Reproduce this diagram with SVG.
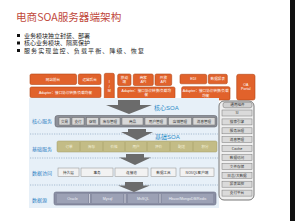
<svg xmlns="http://www.w3.org/2000/svg" width="295" height="221" viewBox="0 0 295 221">
<style>
.cjk{font-family:"Noto Sans CJK SC","Liberation Sans",sans-serif}
.or{fill:#e1622b;stroke:#b44716;stroke-width:0.6}
.ot{fill:#fff;font-size:3.6px;text-anchor:middle;font-family:"Liberation Sans","Noto Sans CJK SC",sans-serif}
.lbl{fill:#2f82c4;font-size:5px;font-family:"Noto Sans CJK SC",sans-serif}
.soa{fill:#2c8cc8;font-size:6px;font-family:"Liberation Sans","Noto Sans CJK SC",sans-serif}
.ci{fill:#d8d8d8;stroke:#6f6f6f;stroke-width:0.5}
.ct{fill:#333;font-size:3.6px;text-anchor:middle;font-family:"Noto Sans CJK SC",sans-serif}
.bt{fill:#f4f1dc;font-size:3.6px;text-anchor:middle;font-family:"Noto Sans CJK SC",sans-serif}
.di{fill:#f2f2f2;stroke:#8c8c8c;stroke-width:0.5}
.st{fill:#eef0f6;font-size:3.6px;text-anchor:middle;font-family:"Liberation Sans","Noto Sans CJK SC",sans-serif}
.gi{fill:#dadada;stroke:#7a7a7a;stroke-width:0.5}
.sep{stroke:#8ea6c2;stroke-width:0.7;stroke-dasharray:1.2 1.2;fill:none}
.arr{fill:#6b6b6b}
</style>
<rect width="295" height="221" fill="#fff"/>
<rect x="290" y="0" width="5" height="221" fill="#111"/>

<g id="title">
<text x="16" y="21" fill="#c0473a" font-size="10.6" class="cjk">电商SOA服务器端架构</text>
</g>
<g id="bullets" class="cjk" fill="#222" font-size="6">
<rect x="17" y="34" width="3" height="3" fill="#111"/>
<text x="24" y="37.8">业务模块独立封装、部署</text>
<rect x="17" y="41.5" width="3" height="3" fill="#111"/>
<text x="24" y="45.3">核心业务模块、隔离保护</text>
<rect x="17" y="49" width="3" height="3" fill="#111"/>
<text x="24" y="52.8" textLength="120" lengthAdjust="spacing">服务实现监控、负载平衡、降级、恢复</text>
</g>

<g id="front-end">
<rect class="or" x="30" y="74" width="46.5" height="10.5" rx="1.5"/>
<text class="ot" x="53" y="80.5">网站前台</text>
<rect class="or" x="78.3" y="74" width="22.7" height="10.5" rx="1.5"/>
<text class="ot" x="89.6" y="80.5">运营后台</text>
<rect class="or" x="30" y="87" width="71" height="10.5" rx="1.5"/>
<text class="ot" x="65.5" y="93.5">Adapter：接口协议转换/负载均衡</text>
<rect class="or" x="104.3" y="73.3" width="10" height="27" rx="1.5"/>
<text class="ot" x="109.3" y="83">I</text>
<text class="ot" x="109.3" y="87.5">/</text>
<text class="ot" x="109.3" y="92">M</text>
<rect class="or" x="117.7" y="74" width="13.3" height="11.5" rx="1.5"/>
<text class="ot" x="124.4" y="79">移动</text>
<text class="ot" x="124.4" y="83.2">端</text>
<rect class="or" x="133.3" y="74" width="20" height="11.5" rx="1.5"/>
<text class="ot" x="143.3" y="79">商家</text>
<text class="ot" x="143.3" y="83.2">API</text>
<rect class="or" x="155" y="74" width="16.7" height="11.5" rx="1.5"/>
<text class="ot" x="163.4" y="79">开放</text>
<text class="ot" x="163.4" y="83.2">API</text>
<rect class="or" x="117.7" y="87" width="57.3" height="11.5" rx="1.5"/>
<text class="ot" x="146.3" y="92">Adapter：接口协议转换/负载均</text>
<text class="ot" x="146.3" y="96.3">衡</text>
<rect class="or" x="180" y="74.3" width="26.7" height="9.5" rx="1.5"/>
<text class="ot" x="193.3" y="80.2">EDI</text>
<rect class="or" x="208.3" y="74.3" width="19" height="9.5" rx="1.5"/>
<text class="ot" x="217.8" y="80.2">数据报表</text>
<rect class="or" x="181.7" y="86.7" width="48.3" height="13.3" rx="1.5"/>
<text class="ot" x="205.8" y="92.3">Adapter：接口协议转换/负载</text>
<text class="ot" x="205.8" y="96.6">均衡</text>
<rect class="or" x="236.7" y="74.3" width="18.3" height="25.7" rx="2"/>
<text class="ot" x="245.8" y="85.5">OA</text>
<text class="ot" x="245.8" y="90">Portal</text>
</g>

<rect id="panel" x="29" y="98" width="190" height="110" fill="#e7f0f8"/>

<g id="separators">
<line class="sep" x1="30" y1="134" x2="218" y2="134"/>
<line class="sep" x1="30" y1="158" x2="218" y2="158"/>
<line class="sep" x1="30" y1="185" x2="218" y2="185"/>
</g>

<g id="labels">
<text class="lbl" x="32" y="123">核心服务</text>
<text class="lbl" x="32" y="151">基础服务</text>
<text class="lbl" x="32" y="175">数据访问</text>
<text class="lbl" x="32" y="202">数据源</text>
<text class="soa" x="154" y="110">核心SOA</text>
<text class="soa" x="155" y="139">基础SOA</text>
</g>

<g id="core-services">
<rect x="55" y="115.5" width="162" height="11.5" rx="2.5" fill="#8d9099" stroke="#5f6168" stroke-width="0.6"/>
<rect class="ci" x="59" y="117.7" width="11" height="7.3"/><text class="ct" x="64.5" y="122.6">交易</text>
<rect class="ci" x="72" y="117.7" width="12" height="7.3"/><text class="ct" x="78" y="122.6">支付</text>
<rect class="ci" x="86.5" y="117.7" width="12" height="7.3"/><text class="ct" x="92.5" y="122.6">促销</text>
<rect class="ci" x="100" y="117.7" width="20" height="7.3"/><text class="ct" x="110" y="122.6">库存管理</text>
<rect class="ci" x="122" y="117.7" width="21" height="7.3"/><text class="ct" x="132.5" y="122.6">商品</text>
<rect class="ci" x="145" y="117.7" width="22" height="7.3"/><text class="ct" x="156" y="122.6">用户管理</text>
<rect class="ci" x="168.5" y="117.7" width="23" height="7.3"/><text class="ct" x="180" y="122.6">店铺管理</text>
<rect class="ci" x="193" y="117.7" width="22" height="7.3"/><text class="ct" x="204" y="122.6">消息管理</text>
</g>

<g id="base-services">
<rect x="57" y="141" width="160" height="11" rx="1.5" fill="#c3bc86" stroke="#a39c66" stroke-width="0.5"/>
<g stroke="#a29a62" stroke-width="0.6">
<line x1="80" y1="142" x2="80" y2="151"/><line x1="103" y1="142" x2="103" y2="151"/>
<line x1="125" y1="142" x2="125" y2="151"/><line x1="147" y1="142" x2="147" y2="151"/>
<line x1="170" y1="142" x2="170" y2="151"/><line x1="193" y1="142" x2="193" y2="151"/>
</g>
<text class="bt" x="69" y="148">订单</text>
<text class="bt" x="91.5" y="148">库存</text>
<text class="bt" x="114" y="148">价格</text>
<text class="bt" x="136" y="148">用户</text>
<text class="bt" x="158.5" y="148">评价</text>
<text class="bt" x="181.5" y="148">配送</text>
<text class="bt" x="205" y="148">积分</text>
</g>

<g id="data-access">
<rect class="di" x="58" y="168" width="21" height="8.7"/><text class="ct" x="68.5" y="173.6">持久层</text>
<rect class="di" x="81" y="168" width="32" height="8.7"/><text class="ct" x="97" y="173.6">事务</text>
<rect class="di" x="115" y="168" width="33" height="8.7"/><text class="ct" x="131.5" y="173.6">连接池</text>
<rect class="di" x="151" y="168" width="25" height="8.7"/><text class="ct" x="163.5" y="173.6">数据工具</text>
<rect class="di" x="180" y="168" width="34" height="8.7"/><text class="ct" x="197" y="173.6">NOSQL客户端</text>
</g>

<g id="data-source">
<rect x="54" y="192" width="162" height="13" rx="2" fill="#8a8fa4" stroke="#6c7086" stroke-width="0.6"/>
<rect x="57" y="194" width="31" height="9" fill="#9ca1b5"/>
<rect x="92" y="194" width="31" height="9" fill="#9ca1b5"/>
<rect x="128" y="194" width="30" height="9" fill="#9ca1b5"/>
<rect x="162" y="194" width="51" height="9" fill="#9ca1b5"/>
<g stroke="#e6e8f0" stroke-width="0.7">
<line x1="89.5" y1="194" x2="89.5" y2="203"/><line x1="125" y1="194" x2="125" y2="203"/><line x1="160" y1="194" x2="160" y2="203"/>
</g>
<text class="st" x="72.5" y="199.8">Oracle</text>
<text class="st" x="107.5" y="199.8">Mysql</text>
<text class="st" x="143" y="199.8">MsSQL</text>
<text class="st" x="187.5" y="199.8">Hbase/MongoDB/Redis</text>
</g>

<g id="common-components">
<rect x="219" y="101" width="35" height="99" rx="5" fill="#efefef" stroke="#6a6a6a" stroke-width="0.9"/>
<rect x="223" y="102.3" width="29" height="5.5" rx="2" fill="#d0d0d0" stroke="#6a6a6a" stroke-width="0.5"/>
<text class="ct" x="237.5" y="106.4">通用组件</text>
<rect class="gi" x="222" y="110" width="30" height="6"/><text class="ct" x="237" y="114.2">SI</text>
<rect class="gi" x="222" y="118.9" width="30" height="6"/><text class="ct" x="237" y="123.1">搜索引擎</text>
<rect class="gi" x="222" y="127.8" width="30" height="6"/><text class="ct" x="237" y="132">服务治理</text>
<rect class="gi" x="222" y="136.7" width="30" height="6"/><text class="ct" x="237" y="140.9">消息管理</text>
<rect class="gi" x="222" y="145.6" width="30" height="6"/><text class="ct" x="237" y="149.8">Cache</text>
<rect class="gi" x="222" y="154.5" width="30" height="6"/><text class="ct" x="237" y="158.7">数据访问</text>
<rect class="gi" x="222" y="163.4" width="30" height="6"/><text class="ct" x="237" y="167.6">文件存储</text>
<rect class="gi" x="222" y="172.3" width="30" height="6"/><text class="ct" x="237" y="176.5">日志/大数据</text>
<rect class="gi" x="222" y="181.2" width="30" height="6"/><text class="ct" x="237" y="185.4">报表监控</text>
<rect class="gi" x="222" y="190.1" width="30" height="6"/><text class="ct" x="237" y="194.3">支付平台</text>
</g>

<g id="connectors">
<path class="arr" d="M118,100 H140 V105 H152 L129,114 L106,105 H118 Z"/>
<path class="arr" d="M128,129 H146 V132 H153 L137,140 L121,132 H128 Z"/>
<path class="arr" d="M126,154 H144 V157.5 H151 L135,165 L119,157.5 H126 Z"/>
<path class="arr" d="M125,182 H143 V185.5 H150 L134,192 L118,185.5 H125 Z"/>
</g>
</svg>
